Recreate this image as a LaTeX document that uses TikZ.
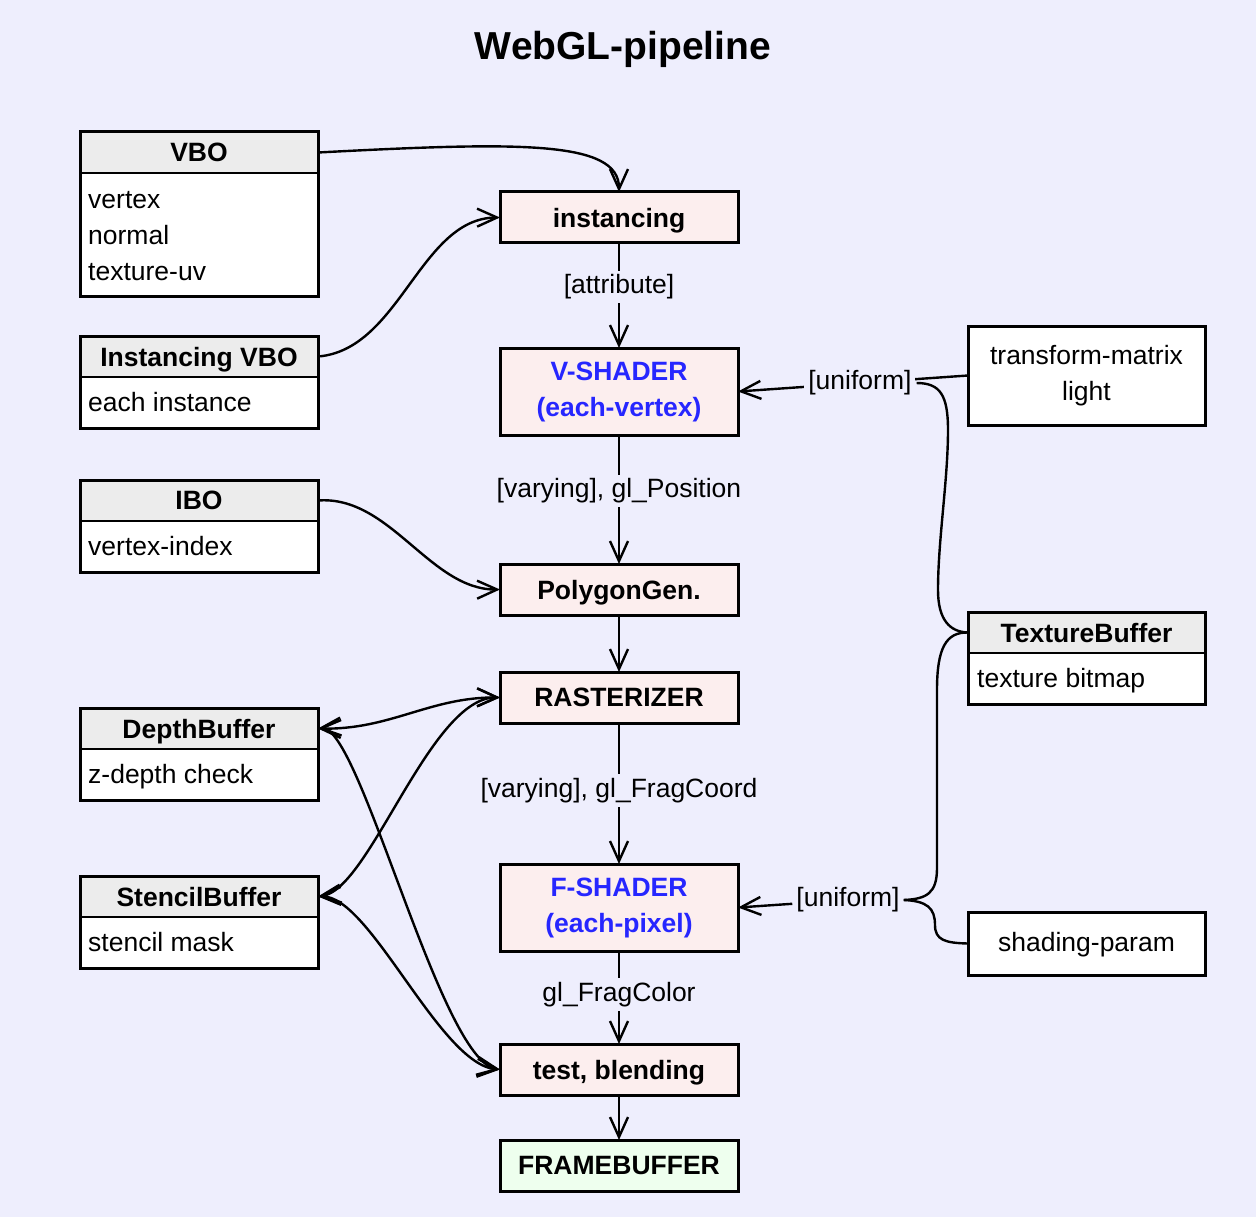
\documentclass[tikz,border=0pt]{standalone}
\usepackage{fontspec}
\setmainfont{Liberation Sans}
\usetikzlibrary{arrows.meta,calc}
\definecolor{bgc}{RGB}{238,238,253}
\definecolor{pinkc}{RGB}{252,238,238}
\definecolor{greenc}{RGB}{238,255,238}
\definecolor{hdrc}{RGB}{236,236,236}
\definecolor{bluec}{RGB}{38,38,255}
\newcommand\fnrm{\fontsize{26.5pt}{36pt}\selectfont}
\newcommand\fbld{\fontsize{26.5pt}{36pt}\selectfont\bfseries}
\newcommand\fttl{\fontsize{39pt}{44pt}\selectfont\bfseries}
\begin{document}
\begin{tikzpicture}[x=1pt,y=-1pt,
  proc/.style={draw, line width=3pt, fill=pinkc, minimum width=238pt, minimum height=51pt, inner sep=0pt, outer sep=0pt, font=\fbld, align=center},
  cbody/.style={draw, line width=3pt, fill=white, minimum width=238pt, inner sep=0pt, outer sep=0pt},
  chead/.style={fill=hdrc, minimum width=238pt, minimum height=41pt, inner sep=0pt, outer sep=0pt, font=\fbld, text depth=0pt},
  item/.style={anchor=mid west, inner sep=0pt, font=\fnrm},
  lbl/.style={fill=bgc, inner sep=4pt, font=\fnrm},
  divl/.style={line width=1.3pt},
  bord/.style={line width=3pt},
  edge/.style={line width=2.4pt},
  arr/.style={edge, -{Straight Barb[length=20pt,width=18pt]}},
  darr/.style={edge, {Straight Barb[length=20pt,width=18pt]}-{Straight Barb[length=20pt,width=18pt]}}
]
\fill[bgc] (0,0) rectangle (1256,1217);
\useasboundingbox (0,0) rectangle (1256,1217);

\node[font=\fttl] (title) at (623,49) {WebGL-pipeline};

% ---- left class boxes
\node[cbody, minimum height=164pt] (vbo) at (199,214) {};
\node[chead, anchor=north] (vboh) at (vbo.north) {VBO};
\draw[divl] (vboh.south west) -- (vboh.south east);
\draw[bord] (vbo.north west) rectangle (vbo.south east);
\node[item] (vbo1) at (88,206) {vertex};
\node[item] (vbo2) at (88,242) {normal};
\node[item] (vbo3) at (88,278) {texture-uv};

\node[cbody, minimum height=92pt] (ivbo) at (199,382) {};
\node[chead, anchor=north] (ivboh) at (ivbo.north) {Instancing VBO};
\draw[divl] (ivboh.south west) -- (ivboh.south east);
\draw[bord] (ivbo.north west) rectangle (ivbo.south east);
\node[item] (ivbo1) at (88,409) {each instance};

\node[cbody, minimum height=92pt] (ibo) at (199,526) {};
\node[chead, anchor=north] (iboh) at (ibo.north) {IBO};
\draw[divl] (iboh.south west) -- (iboh.south east);
\draw[bord] (ibo.north west) rectangle (ibo.south east);
\node[item] (ibo1) at (88,553) {vertex-index};

\node[cbody, minimum height=92pt] (dep) at (199,754) {};
\node[chead, anchor=north] (deph) at (dep.north) {DepthBuffer};
\draw[divl] (deph.south west) -- (deph.south east);
\draw[bord] (dep.north west) rectangle (dep.south east);
\node[item] (dep1) at (88,781) {z-depth check};

\node[cbody, minimum height=92pt] (sten) at (199,922) {};
\node[chead, anchor=north] (stenh) at (sten.north) {StencilBuffer};
\draw[divl] (stenh.south west) -- (stenh.south east);
\draw[bord] (sten.north west) rectangle (sten.south east);
\node[item] (sten1) at (88,949) {stencil mask};

% ---- right boxes
\node[cbody, minimum width=237pt, minimum height=99pt, align=center, font=\fnrm] (tm) at (1086.5,375.5) {transform-matrix\\light};

\node[cbody, minimum width=237pt, minimum height=92pt] (texb) at (1086.5,658) {};
\node[chead, minimum width=237pt, anchor=north] (texh) at (texb.north) {TextureBuffer};
\draw[divl] (texh.south west) -- (texh.south east);
\draw[bord] (texb.north west) rectangle (texb.south east);
\node[item] (texb1) at (977,685) {texture bitmap};

\node[cbody, minimum width=237pt, minimum height=63pt, font=\fnrm, text depth=3pt] (shp) at (1086.5,943.5) {shading-param};

% ---- pipeline
\node[proc, text depth=0pt] (inst) at (619,217.5) {instancing};
\node[proc, minimum height=87pt, text=bluec] (vsh) at (619,391.5) {V-SHADER\\(each-vertex)};
\node[proc, text depth=0pt] (poly) at (619,589.5) {PolygonGen.};
\node[proc, text depth=0pt] (rast) at (619,697.5) {RASTERIZER};
\node[proc, minimum height=87pt, text=bluec] (fsh) at (619,907.5) {F-SHADER\\(each-pixel)};
\node[proc, text depth=0pt] (test) at (619,1069.5) {test, blending};
\node[proc, fill=greenc, text depth=0pt] (fb) at (619,1165.5) {FRAMEBUFFER};

% ---- connectors
\draw[arr] (vboh.east) .. controls (518,142) and (619,140) .. (inst.north);
\draw[arr] (ivboh.east) .. controls (400,350) and (420,218) .. (inst.west);
\draw[arr] (inst) -- node[lbl, pos=0.42] (l1) {[attribute]} (vsh);
\draw[arr] (vsh) -- node[lbl, pos=0.434] (l2) {[varying], gl\_Position} (poly);
\draw[arr] (poly) -- (rast);
\draw[arr] (rast) -- node[lbl, pos=0.48] (l3) {[varying], gl\_FragCoord} (fsh);
\draw[arr] (fsh) -- node[lbl, pos=0.47] (l4) {gl\_FragColor} (test);
\draw[arr] (test) -- (fb);
\draw[arr] (iboh.east) .. controls (390,495) and (430,590) .. (poly.west);

\draw[darr] (deph.east) .. controls (390,730) and (430,697) .. (rast.west);
\draw[darr] (stenh.east) .. controls (370,890) and (430,697) .. (rast.west);
\draw[darr] (deph.east) .. controls (360,725) and (440,1060) .. (test.west);
\draw[darr] (stenh.east) .. controls (370,895) and (440,1065) .. (test.west);

% uniforms
\draw[arr] (tm.west) -- node[lbl, pos=0.47] (u1) {[uniform]} (vsh.east);
\draw[edge] (u1.east) .. controls (940,383) and (948,395) .. (948,430)
  .. controls (948,480) and (938,540) .. (938,590)
  .. controls (938,620) and (950,632) .. (texh.west);

\node[lbl] (u2) at (848,900) {[uniform]};
\draw[arr] (u2) -- (fsh.east);
\draw[edge] (u2.east) .. controls (927,899) and (937,893) .. (937,868)
  -- (937,690) .. controls (937,648) and (946,632) .. (texh.west);
\draw[edge] (u2.east) .. controls (927,901) and (935,908) .. (935,925)
  .. controls (935,940) and (945,943) .. (shp.west);
\end{tikzpicture}
\end{document}
